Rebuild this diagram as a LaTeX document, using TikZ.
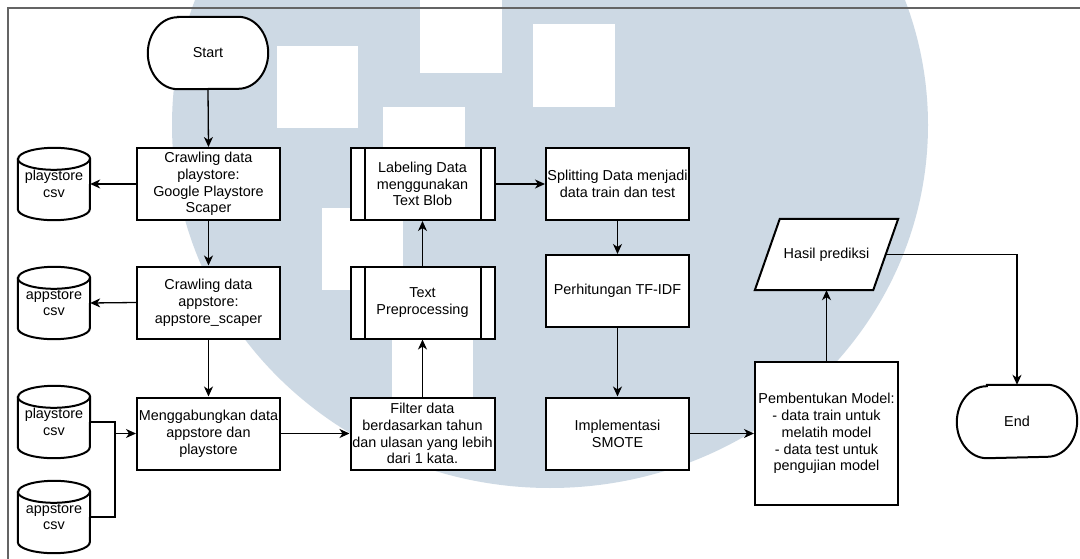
\documentclass[tikz,border=0pt]{standalone}
\usepackage{fontspec}
\setmainfont{Liberation Sans}
\usetikzlibrary{arrows.meta,calc}
\pgfdeclarelayer{wm}
\pgfdeclarelayer{bg}
\pgfsetlayers{wm,bg,main}
\definecolor{wmblue}{RGB}{205,217,228}
\definecolor{framegray}{RGB}{100,100,100}
\tikzset{
  txt/.style={inner sep=0pt, align=center, font=\fontsize{14.4pt}{16.8pt}\selectfont},
  box/.style={txt, draw, line width=2pt, fill=white, minimum width=143pt, minimum height=72pt},
  procbox/.style={box, minimum width=144pt},
  cylnode/.style={txt, minimum width=72pt, minimum height=72pt},
  termnode/.style={txt, minimum width=120pt, minimum height=72pt},
  shapeline/.style={draw, line width=2pt, fill=white},
  barline/.style={draw, line width=2pt},
  arr/.style={draw, line width=1.3pt, -{Stealth[length=10pt,width=9pt,inset=3pt]}},
  plainline/.style={draw, line width=1.3pt},
}
\newcommand\cylout[1]{%
  \begin{pgfonlayer}{bg}
  \path[shapeline] ([yshift=-11pt]#1.north west) -- ([yshift=11pt]#1.south west)
     arc[start angle=180,end angle=360,x radius=36pt,y radius=11pt]
     -- ([yshift=-11pt]#1.north east)
     arc[start angle=0,end angle=180,x radius=36pt,y radius=11pt] -- cycle;
  \path[barline] ([yshift=-11pt]#1.north west)
     arc[start angle=180,end angle=360,x radius=36pt,y radius=11pt];
  \end{pgfonlayer}}
\newcommand\termout[1]{%
  \begin{pgfonlayer}{bg}
  \path[shapeline] ([xshift=30pt]#1.north west) -- ([xshift=-30pt]#1.north east)
     arc[start angle=90,end angle=-90,x radius=30pt,y radius=36pt]
     -- ([xshift=30pt]#1.south west)
     arc[start angle=270,end angle=90,x radius=30pt,y radius=36pt] -- cycle;
  \end{pgfonlayer}}
\newcommand\parout[1]{%
  \begin{pgfonlayer}{bg}
  \path[shapeline] ([xshift=25pt]#1.north west) -- (#1.north east)
     -- ([xshift=-25pt]#1.south east) -- (#1.south west) -- cycle;
  \end{pgfonlayer}}
\newcommand\procbars[1]{%
  \path[barline] ([xshift=15pt]#1.north west) -- ([xshift=15pt]#1.south west)
     ([xshift=-15pt]#1.north east) -- ([xshift=-15pt]#1.south east);}
\begin{document}
\begin{tikzpicture}[x=1pt,y=-1pt]
\useasboundingbox (0,0) rectangle (1080,559);
\begin{pgfonlayer}{wm}
  \begin{scope}
    \clip (0,0) rectangle (1080,559);
    \fill[white] (0,0) rectangle (1080,559);
    \fill[wmblue] (550,125) ellipse[x radius=378pt, y radius=363pt];
    \fill[white] (277,46) rectangle (358,128);
    \fill[white] (420,-5) rectangle (502,73);
    \fill[white] (533,24) rectangle (615,107);
    \fill[white] (383,107) rectangle (465,189);
    \fill[white] (322,208) rectangle (403,290);
    \fill[white] (392,338) rectangle (473,420);
  \end{scope}
  \draw[framegray, line width=2pt] (8,560) -- (8,8) -- (1081,8);
\end{pgfonlayer}

% nodes
\node[termnode] (startn) at (208,53) {Start};
\termout{startn}
\node[box] (b1) at (208.5,184) {Crawling data\\playstore:\\Google Playstore\\Scaper};
\node[cylnode] (c1) at (54,184) {playstore\\csv};
\cylout{c1}
\node[box] (b2) at (208.5,302.5) {Crawling data\\appstore:\\appstore\_scaper};
\node[cylnode] (c2) at (54,303) {appstore\\csv};
\cylout{c2}
\node[box] (b3) at (208.5,433.5) {Menggabungkan data\\appstore dan\\playstore};
\node[cylnode] (c3) at (54,422) {playstore\\csv};
\cylout{c3}
\node[cylnode] (c4) at (54,517) {appstore\\csv};
\cylout{c4}
\node[procbox] (lab) at (422.5,184) {Labeling Data\\menggunakan\\Text Blob};
\procbars{lab}
\node[procbox] (tp) at (422.5,302.5) {Text\\Preprocessing};
\procbars{tp}
\node[procbox] (filt) at (422.5,433.5) {Filter data\\berdasarkan tahun\\dan ulasan yang lebih\\dari 1 kata.};
\node[box] (spl) at (617.5,184) {Splitting Data menjadi\\data train dan test};
\node[box] (tf) at (617.5,291) {Perhitungan TF-IDF};
\node[box] (smote) at (617.5,433.5) {Implementasi\\SMOTE};
\node[box, minimum height=143pt] (model) at (826.5,433.5) {Pembentukan Model:\\- data train untuk\\melatih model\\- data test untuk\\pengujian model};
\node[txt, minimum width=143pt, minimum height=71pt] (hasil) at (826.5,254.5) {Hasil prediksi};
\parout{hasil}
\node[termnode, minimum height=73pt] (endn) at (1017,421.5) {End};
\termout{endn}

% connectors
\draw[arr] (startn.south) -- (b1.north);
\draw[arr] (b1.west) -- (c1.east);
\draw[arr] (b1.south) -- (b2.north);
\draw[arr] (b2.west) -- (c2.east);
\draw[arr] (b2.south) -- (b3.north);
\coordinate (jn) at (115,433.5);
\draw[plainline] (c3.east) -| (jn);
\draw[plainline] (c4.east) -| (jn);
\draw[arr] (jn) -- (b3.west);
\draw[arr] (b3.east) -- (filt.west);
\draw[arr] (filt.north) -- (tp.south);
\draw[arr] (tp.north) -- (lab.south);
\draw[arr] (lab.east) -- (spl.west);
\draw[arr] (spl.south) -- (tf.north);
\draw[arr] (tf.south) -- (smote.north);
\draw[arr] (smote.east) -- (model.west);
\draw[arr] (model.north) -- (hasil.south);
\draw[arr] ([xshift=-12.5pt]hasil.east) -| (endn.north);
\end{tikzpicture}
\end{document}
